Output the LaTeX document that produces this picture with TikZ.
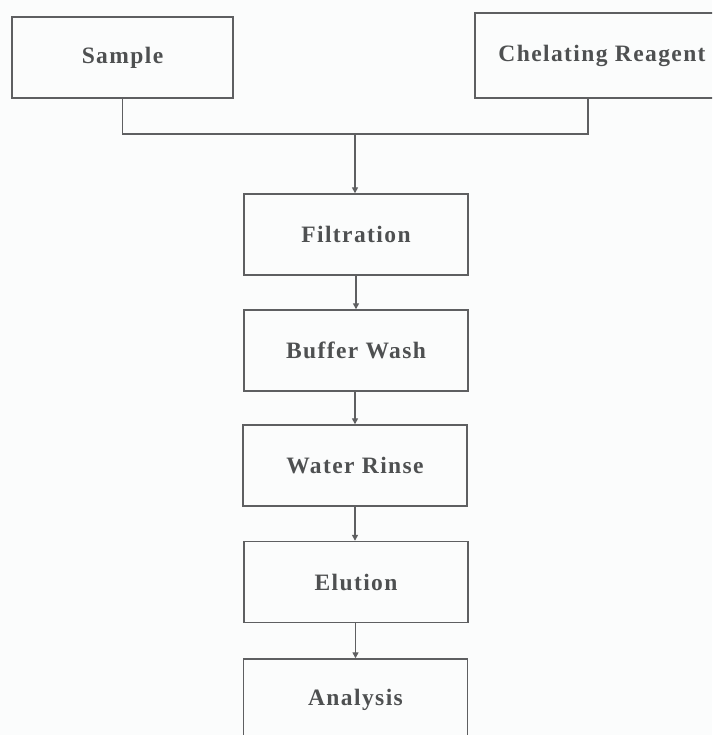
\documentclass[tikz,border=0pt]{standalone}
\usepackage{fontspec}
\setmainfont{Liberation Serif}
\newfontfamily\boxfont[LetterSpace=6]{Liberation Serif}
\usetikzlibrary{arrows.meta}
\definecolor{linegray}{HTML}{5E5F61}
\definecolor{textgray}{HTML}{4E5051}
\definecolor{paper}{HTML}{FBFCFC}
\tikzset{
  stepbox/.style={draw=linegray, line width=1.4pt, minimum width=224pt,
    minimum height=81pt, inner sep=0pt, text=textgray,
    font=\boxfont\bfseries\fontsize{23.5}{27}\selectfont},
  flow/.style={draw=linegray, line width=1.4pt},
  flowarrow/.style={flow, -{Triangle[width=6pt,length=6pt]}},
}
\begin{document}
\begin{tikzpicture}[x=1pt,y=1pt]
  \clip (0,0) rectangle (712,735);
  \fill[paper] (0,0) rectangle (712,735);

  % inputs
  \node[stepbox, minimum width=221pt] (sample) at (122.5,677.5) {Sample\hspace{10pt}};
  \node[stepbox, minimum width=254pt, minimum height=85pt] (chel) at (602,679.5) {Chelating Reagent};

  % process column
  \node[stepbox] (filt)  at (356,500.5) {Filtration};
  \node[stepbox] (wash)  at (356,384.5) {Buffer Wash};
  \node[stepbox] (rinse) at (355,269.5) {Water Rinse};
  \node[stepbox] (elut)  at (356,153)   {Elution};
  \node[stepbox] (anal)  at (355.5,35.5) {Analysis};

  % merge of the two inputs
  \coordinate (join) at (355,601);
  \coordinate (chelfoot) at (588,636.5);
  \draw[flow] (sample.south) |- (join) -| (chelfoot);
  \draw[flowarrow] (join) -- (join |- filt.north);

  % steps
  \draw[flowarrow] (filt.south)  -- (wash.north);
  \draw[flowarrow] (wash.south -| rinse.north) -- (rinse.north);
  \draw[flowarrow] (rinse.south) -- (rinse.south |- elut.north);
  \draw[flowarrow] (elut.south -| anal.north) -- (anal.north);
\end{tikzpicture}
\end{document}
